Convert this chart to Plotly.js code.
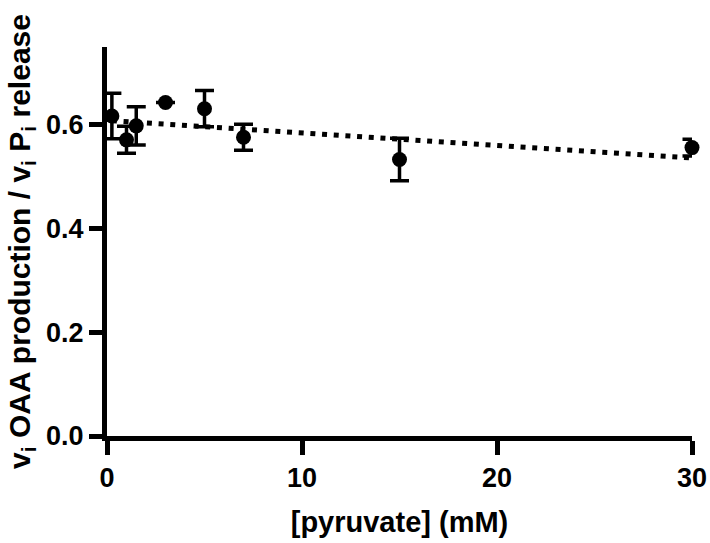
<!DOCTYPE html>
<html>
<head>
<meta charset="utf-8">
<script src="https://cdn.plot.ly/plotly-3.0.1.min.js"></script>
<style>html,body{margin:0;padding:0;background:#fff;}#chart{width:710px;height:543px;}</style>
</head>
<body>
<div id="chart"></div>
<script>
const pyruvate = [0.25, 1, 1.5, 3, 5, 7, 15, 30];
const ratio = [0.617, 0.571, 0.598, 0.643, 0.631, 0.576, 0.533, 0.556];
const ratioErr = [0.044, 0.026, 0.037, 0, 0.035, 0.025, 0.041, 0.016];
const fitX = [0.25, 30];
const fitY = [0.608, 0.536];
const xTicks = [0, 10, 20, 30];
const yTicks = [0, 0.2, 0.4, 0.6];

const traces = [
  {
    x: fitX, y: fitY, mode: 'lines', type: 'scatter',
    line: {color: '#000', width: 5, dash: '5px,6.7px'},
    hoverinfo: 'skip', showlegend: false, cliponaxis: false
  },
  {
    x: pyruvate, y: ratio, mode: 'markers', type: 'scatter',
    marker: {color: '#000', size: 15, symbol: 'circle'},
    error_y: {type: 'data', array: ratioErr, visible: true, color: '#000', thickness: 3.5, width: 9.5},
    showlegend: false, cliponaxis: false
  }
];

const fam = 'Liberation Sans, Arial, sans-serif';
const layout = {
  width: 710, height: 543,
  margin: {l: 107, r: 18, t: 47, b: 107},
  paper_bgcolor: '#fff', plot_bgcolor: '#fff',
  showlegend: false,
  xaxis: {
    range: [0, 30], tickvals: xTicks, ticktext: xTicks.map(String),
    showgrid: false, zeroline: false, showline: true, linecolor: '#000', linewidth: 5,
    ticks: 'outside', ticklen: 14, tickwidth: 5, tickcolor: '#000',
    tickfont: {family: fam, size: 27, color: '#000', weight: 'bold'},
    title: {text: '<b>[pyruvate] (mM)</b>', font: {family: fam, size: 29, color: '#000'}, standoff: 21}
  },
  yaxis: {
    range: [0, 0.75], tickvals: yTicks, ticktext: yTicks.map(v => v.toFixed(1)),
    showgrid: false, zeroline: false, showline: true, linecolor: '#000', linewidth: 5,
    ticks: 'outside', ticklen: 13, tickwidth: 5, tickcolor: '#000',
    tickfont: {family: fam, size: 27, color: '#000', weight: 'bold'},
    title: {text: '<b>v<sub>i</sub> OAA production / v<sub>i</sub> P<sub>i</sub> release</b>', font: {family: fam, size: 30, color: '#000'}, standoff: 8}
  }
};

Plotly.newPlot('chart', traces, layout, {displayModeBar: false, staticPlot: true});
</script>
</body>
</html>
